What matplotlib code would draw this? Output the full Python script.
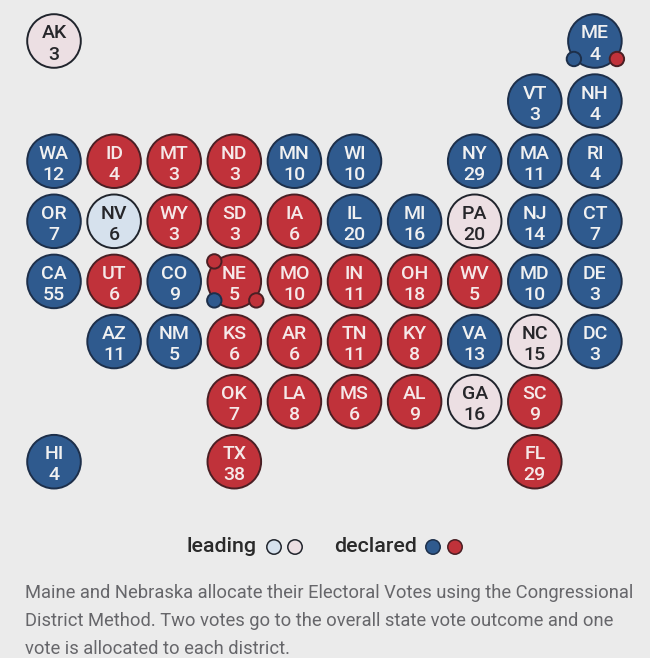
import matplotlib
matplotlib.use("Agg")
from matplotlib import pyplot as plt, patches

# state, electoral votes, grid column, grid row, status
states = ["AK","ME","VT","NH","WA","ID","MT","ND","MN","WI","NY","MA","RI",
          "OR","NV","WY","SD","IA","IL","MI","PA","NJ","CT",
          "CA","UT","CO","NE","MO","IN","OH","WV","MD","DE",
          "AZ","NM","KS","AR","TN","KY","VA","NC","DC",
          "OK","LA","MS","AL","GA","SC","HI","TX","FL"]
votes = [3,4,3,4,12,4,3,3,10,10,29,11,4,
         7,6,3,3,6,20,16,20,14,7,
         55,6,9,5,10,11,18,5,10,3,
         11,5,6,6,11,8,13,15,3,
         7,8,6,9,16,9,4,38,29]
cols = [0,9,8,9,0,1,2,3,4,5,7,8,9,
        0,1,2,3,4,5,6,7,8,9,
        0,1,2,3,4,5,6,7,8,9,
        1,2,3,4,5,6,7,8,9,
        3,4,5,6,7,8,0,3,8]
rows = [0,0,1,1,2,2,2,2,2,2,2,2,2,
        3,3,3,3,3,3,3,3,3,3,
        4,4,4,4,4,4,4,4,4,4,
        5,5,5,5,5,5,5,5,5,
        6,6,6,6,6,6,7,7,7]
# b=declared dem, r=declared rep, lb/lr=leading
status = ["lr","b","b","b","b","r","r","r","b","b","b","b","b",
          "b","lb","r","r","r","b","b","lr","b","b",
          "b","r","b","r","r","r","r","r","b","b",
          "b","b","r","r","r","r","b","lr","b",
          "r","r","r","r","lr","r","b","r","r"]

# district dots: state, offset x, offset y, colour key
dist_state = ["NE","NE","NE","ME","ME"]
dist_dx = [-20,-20,22,-21,22]
dist_dy = [-20,19,19,18,18]
dist_status = ["r","b","r","b","r"]

legend_labels = ["leading","declared"]
note = ["Maine and Nebraska allocate their Electoral Votes using the Congressional",
        "District Method. Two votes go to the overall state vote outcome and one",
        "vote is allocated to each district."]

colors = {"b":"#2f5a8e","r":"#c0323a","lb":"#d6e1ed","lr":"#ecdfe3"}
edges = {"b":"#1d2f4a","r":"#4a1f24","lb":"#20242c","lr":"#20242c"}
txt = {"b":"#f1f1f1","r":"#f5e9e9","lb":"#26262a","lr":"#26262a"}
bg = "#ebebeb"

fig = plt.figure(figsize=(6.5,6.58),dpi=100,facecolor=bg)
ax = fig.add_axes([0,0,1,1])
ax.set_xlim(0,650)
ax.set_ylim(658,0)
ax.axis("off")

x0 = 54
y0 = 41
step = 60.1
r = 26.8

pos = {}
for s,v,c,w,st in zip(states,votes,cols,rows,status):
    x = x0+c*step
    y = y0+w*step
    pos[s] = (x,y)
    ax.add_patch(patches.Circle((x,y),r,fc=colors[st],ec=edges[st],lw=1.4,zorder=2))
    ax.text(x,y-9.5,s,ha="center",va="center_baseline",color=txt[st],fontsize=14,family="Roboto",fontweight="medium",zorder=4)
    ax.text(x,y+11.5,str(v),ha="center",va="center_baseline",color=txt[st],fontsize=14,family="Roboto",fontweight="medium",zorder=4)

for s,dx,dy,st in zip(dist_state,dist_dx,dist_dy,dist_status):
    x,y = pos[s]
    ax.add_patch(patches.Circle((x+dx,y+dy),7.2,fc=colors[st],ec=edges[st],lw=1.4,zorder=3))

# legend
ax.text(186,546,legend_labels[0],ha="left",va="center",fontsize=15.4,family="Roboto",fontweight="medium",color="#2a2a2a")
ax.text(334,546,legend_labels[1],ha="left",va="center",fontsize=15.4,family="Roboto",fontweight="medium",color="#2a2a2a")
for x,st in zip([274,295,433,455],["lb","lr","b","r"]):
    ax.add_patch(patches.Circle((x,547),7.2,fc=colors[st],ec=edges[st],lw=1.1))

for i,line in enumerate(note):
    ax.text(25,592.5+i*28.2,line,ha="left",va="center",fontsize=13.2,family="Roboto",color="#66666a")

fig.savefig("out.png",dpi=100,facecolor=bg)
